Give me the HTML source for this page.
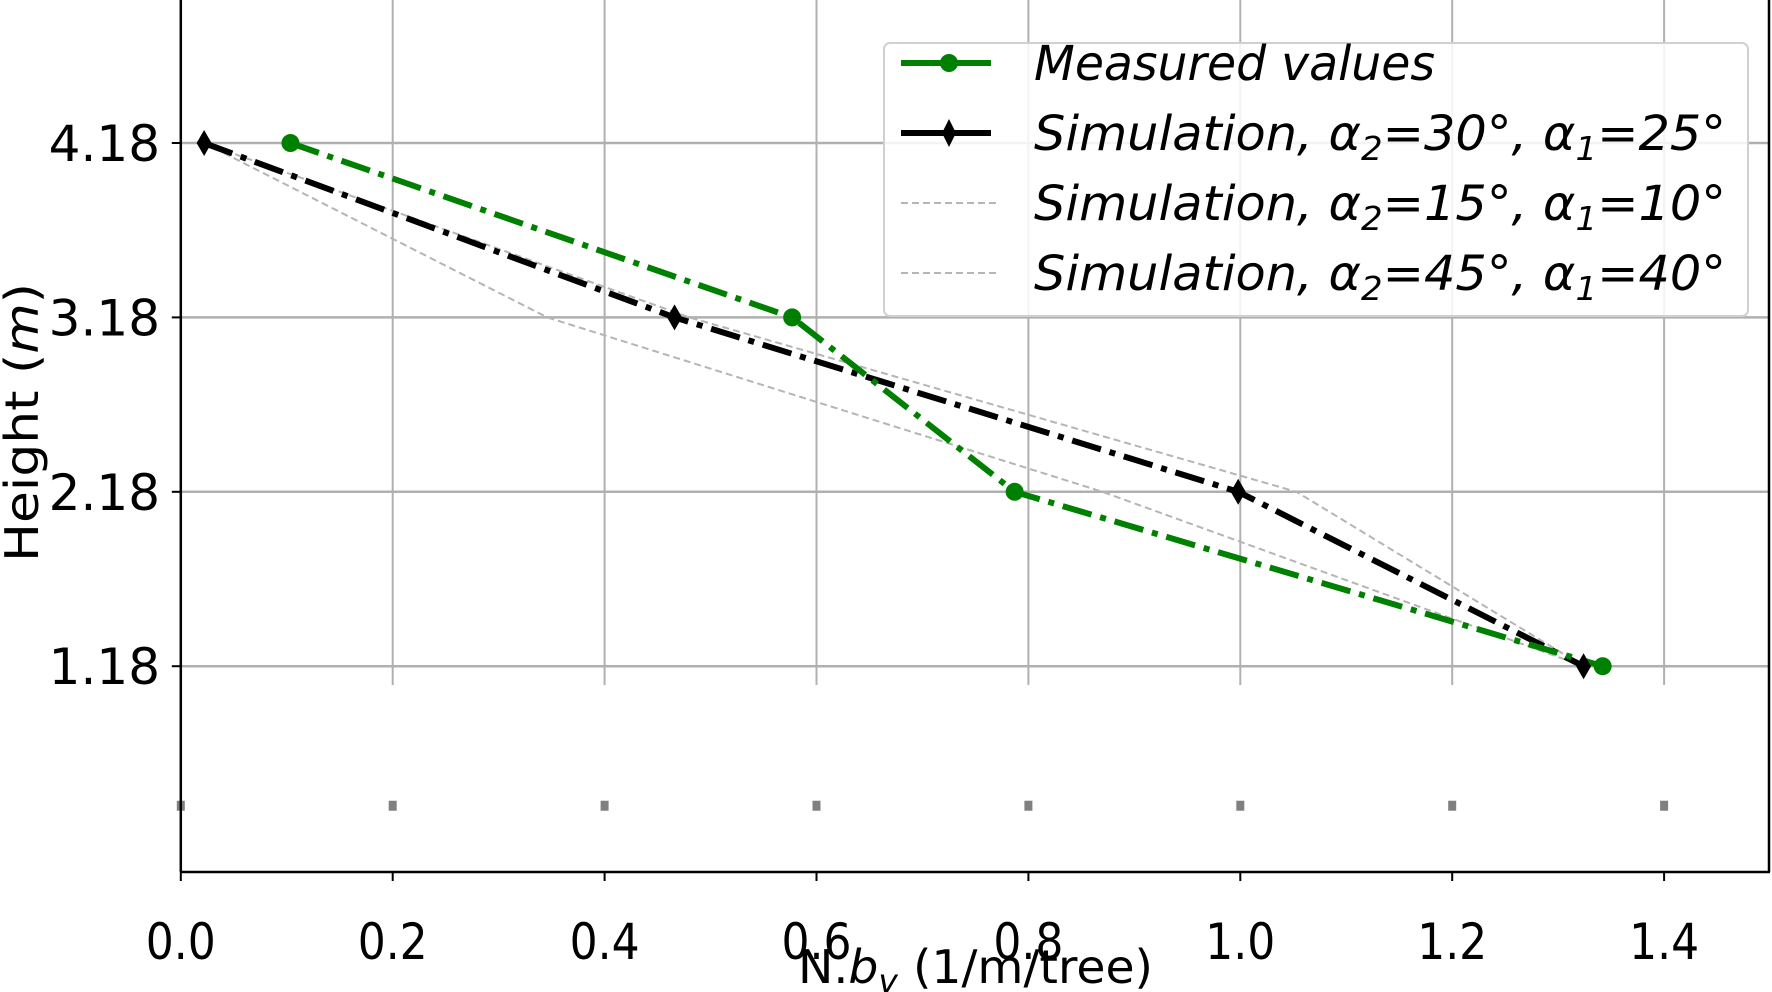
<!DOCTYPE html>
<html><head><meta charset="utf-8"><style>
html,body{margin:0;padding:0;background:#fff;}
svg{display:block;font-family:"DejaVu Sans","Liberation Sans",sans-serif;}
</style></head><body>
<svg id="chart" width="1772" height="992" viewBox="0 0 1772 992" xmlns="http://www.w3.org/2000/svg">
<g id="grid"></g>
<g id="series"></g>
<g id="axes"></g>
<g id="legend"></g>
</svg>
<script>
const xTicks=[0,0.2,0.4,0.6,0.8,1.0,1.2,1.4];
const xTickLabels=["0.0","0.2","0.4","0.6","0.8","1.0","1.2","1.4"];
const yTicks=[1.18,2.18,3.18,4.18];
const yTickLabels=["1.18","2.18","3.18","4.18"];
const heights=[4.18,3.18,2.18,1.18];
const measured=[0.1035,0.577,0.787,1.342];
const sim30=[0.022,0.466,0.998,1.324];
const sim15=[0.022,0.48,1.053,1.324];
const sim45=[0.022,0.346,0.87,1.324];
const baseX=[0,0.2,0.4,0.6,0.8,1.0,1.2,1.4];
const baseY=[0.38,0.38,0.38,0.38,0.38,0.38,0.38,0.38];

const NS="http://www.w3.org/2000/svg";
const X0=180.8,XS=1059.5,Y0=872,YS=174.4;
const sx=v=>X0+v*XS, sy=v=>Y0-v*YS;
function mk(tag,attrs,parent){const e=document.createElementNS(NS,tag);for(const k in attrs)e.setAttribute(k,attrs[k]);parent.appendChild(e);return e;}
const grid=document.getElementById('grid'),series=document.getElementById('series'),axes=document.getElementById('axes'),legend=document.getElementById('legend');

xTicks.forEach((v,i)=>{const l=mk('line',{x1:sx(v),x2:sx(v),y1:0,y2:685,stroke:'#b0b0b0','stroke-width':2},grid);

});
yTicks.forEach(v=>{const l=mk('line',{x1:X0,x2:1770,y1:sy(v),y2:sy(v),stroke:'#b0b0b0','stroke-width':2.5},grid);

});

baseX.forEach((v,i)=>{const r=mk('rect',{x:sx(v)-4,y:sy(baseY[i])-5,width:8,height:10,fill:'#808080'},series);

});

function pts(xs){return xs.map((x,i)=>sx(x)+','+sy(heights[i])).join(' ');}
[[sim15,'sim-15-10-line'],[sim45,'sim-45-40-line']].forEach(([d,n])=>{const p=mk('polyline',{points:pts(d),fill:'none',stroke:'#b5b5b5','stroke-width':2,'stroke-dasharray':'7,4'},series);

});
const bl=mk('polyline',{points:pts(sim30),fill:'none',stroke:'#000','stroke-width':6,'stroke-dasharray':'30,9,6,9'},series);


const gl=mk('polyline',{points:pts(measured),fill:'none',stroke:'#008000','stroke-width':6,'stroke-dasharray':'30,9,6,9'},series);


sim30.forEach((v,i)=>{const x=sx(v),y=sy(heights[i]);const m=mk('polygon',{points:`${x},${y-13} ${x+7.5},${y} ${x},${y+13} ${x-7.5},${y}`,fill:'#000'},series);

});
measured.forEach((v,i)=>{const m=mk('circle',{cx:sx(v),cy:sy(heights[i]),r:9,fill:'#008000'},series);

});

[[X0,0,X0,Y0],[X0,Y0,1770,Y0],[1769,0,1769,Y0]].forEach(a=>{const l=mk('line',{x1:a[0],y1:a[1],x2:a[2],y2:a[3],stroke:'#000','stroke-width':2.5},axes);

});
xTicks.forEach((v,i)=>{const t=mk('line',{x1:sx(v),x2:sx(v),y1:Y0,y2:Y0+9,stroke:'#000','stroke-width':2},axes);


const tx=mk('text',{x:sx(v)-35,y:959,'font-size':50,textLength:70,lengthAdjust:'spacingAndGlyphs'},axes);tx.textContent=xTickLabels[i];

});
yTicks.forEach((v,i)=>{const t=mk('line',{x1:X0-9,x2:X0,y1:sy(v),y2:sy(v),stroke:'#000','stroke-width':2},axes);


const tx=mk('text',{x:160,y:sy(v)+18,'font-size':50,'text-anchor':'end'},axes);tx.textContent=yTickLabels[i];

});
</script>
<script>
(function(){
const svg=document.getElementById('chart');
function add(html){svg.insertAdjacentHTML('beforeend',html);}
add('<text x="798" y="983" font-size="46" textLength="355" lengthAdjust="spacingAndGlyphs">N.<tspan font-style="italic">b</tspan><tspan font-style="italic" font-size="32" dy="9">v</tspan><tspan dy="-9"> (1/m/tree)</tspan></text>');
add('<text transform="translate(38,562) rotate(-90)" font-size="46" textLength="279" lengthAdjust="spacingAndGlyphs">Height (<tspan font-style="italic">m</tspan>)</text>');
add('<rect x="884" y="43" width="864" height="273" rx="6" fill="#fff" fill-opacity="0.85" stroke="#d0d0d0" stroke-width="2"/>');
const rows=[63,133,203,273];
add('<g><line x1="901" x2="991" y1="'+rows[0]+'" y2="'+rows[0]+'" stroke="#008000" stroke-width="6"/><circle cx="949" cy="'+rows[0]+'" r="9" fill="#008000"/><text x="1034" y="'+(rows[0]+17)+'" font-size="48" font-style="italic" textLength="401" lengthAdjust="spacingAndGlyphs">Measured values</text></g>');
add('<g><line x1="901" x2="991" y1="'+rows[1]+'" y2="'+rows[1]+'" stroke="#000" stroke-width="6"/><polygon points="949,'+(rows[1]-14)+' 956,'+rows[1]+' 949,'+(rows[1]+14)+' 942,'+rows[1]+'" fill="#000"/><text x="1034" y="'+(rows[1]+17)+'" font-size="48" font-style="italic" textLength="692" lengthAdjust="spacingAndGlyphs">Simulation, α<tspan font-size="33" dy="10">2</tspan><tspan dy="-10">=30°, α</tspan><tspan font-size="33" dy="10">1</tspan><tspan dy="-10">=25°</tspan></text></g>');
add('<g><line x1="901" x2="996" y1="'+rows[2]+'" y2="'+rows[2]+'" stroke="#b5b5b5" stroke-width="2" stroke-dasharray="7,4"/><text x="1034" y="'+(rows[2]+17)+'" font-size="48" font-style="italic" textLength="692" lengthAdjust="spacingAndGlyphs">Simulation, α<tspan font-size="33" dy="10">2</tspan><tspan dy="-10">=15°, α</tspan><tspan font-size="33" dy="10">1</tspan><tspan dy="-10">=10°</tspan></text></g>');
add('<g><line x1="901" x2="996" y1="'+rows[3]+'" y2="'+rows[3]+'" stroke="#b5b5b5" stroke-width="2" stroke-dasharray="7,4"/><text x="1034" y="'+(rows[3]+17)+'" font-size="48" font-style="italic" textLength="692" lengthAdjust="spacingAndGlyphs">Simulation, α<tspan font-size="33" dy="10">2</tspan><tspan dy="-10">=45°, α</tspan><tspan font-size="33" dy="10">1</tspan><tspan dy="-10">=40°</tspan></text></g>');
})();
</script>
</body></html>
